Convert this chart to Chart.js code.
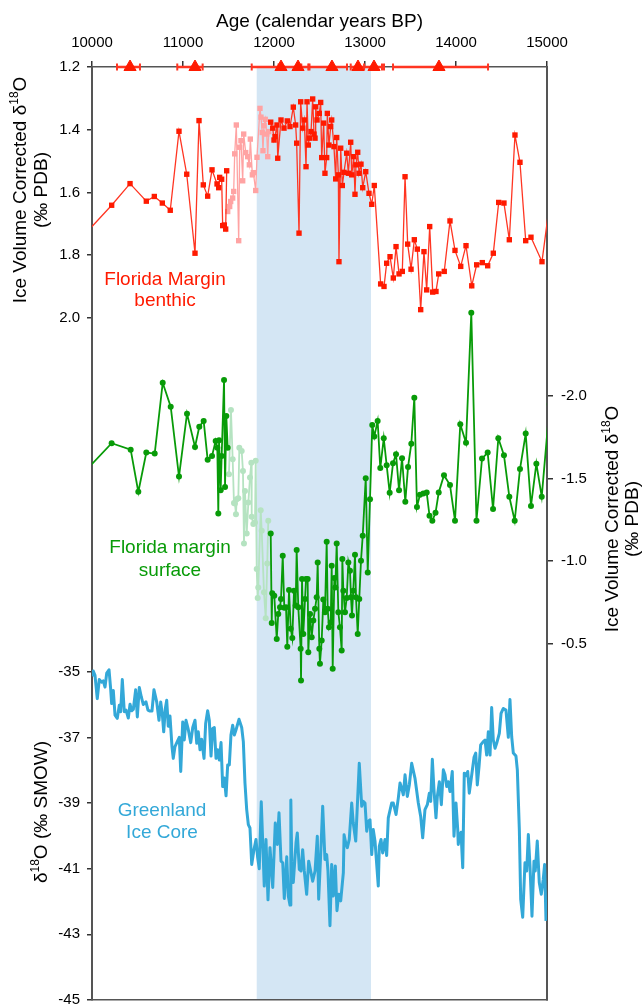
<!DOCTYPE html>
<html>
<head>
<meta charset="utf-8">
<script src="https://cdn.jsdelivr.net/npm/chart.js"></script>
<style>
  html, body { margin: 0; padding: 0; background: #fff; }
  canvas { display: block; }
</style>
</head>
<body>
<canvas id="chart" width="644" height="1004"></canvas>
<script>
// --- Data ---
const ageTicks = [10000, 11000, 12000, 13000, 14000, 15000];
const benthicTicks = [1.2, 1.4, 1.6, 1.8, 2.0];
const surfaceTicks = [-2.0, -1.5, -1.0, -0.5];
const iceTicks = [-35, -37, -39, -41, -43, -45];

// cold interval (shaded band), calendar years BP
const bandStart = 11810;
const bandEnd = 13066;

// radiocarbon dated levels with age ranges
const datedAge = [10418, 11132, 12077, 12264, 12637, 12923, 13099, 13813];
const datedLo  = [10275, 10937, 11755, 12050, 12390, 12843, 12990, 13308];
const datedHi  = [10527, 11216, 12300, 12377, 12802, 13187, 13209, 14352];

// Florida Margin benthic (dark red), early part
const benthicAgeA = [9900, 10216, 10418, 10597, 10685, 10773, 10860, 10956, 11041, 11132, 11176, 11223,
  11271, 11319, 11374, 11392, 11403, 11425, 11436, 11454, 11469, 11480];
const benthicA = [1.74, 1.641, 1.572, 1.628, 1.613, 1.634, 1.657, 1.405, 1.542, 1.794, 1.371, 1.576,
  1.612, 1.528, 1.573, 1.585, 1.552, 1.558, 1.706, 1.704, 1.717, 1.531];

// Florida Margin benthic (dark red), later part
const benthicAgeB = [11964, 11986, 12000, 12011, 12033, 12041, 12077, 12110, 12146, 12176, 12212, 12238,
  12249, 12275, 12293, 12315, 12333, 12352, 12363, 12377, 12388, 12407, 12425, 12440, 12451, 12458,
  12473, 12498, 12513, 12524, 12546, 12560, 12579, 12586, 12604, 12623, 12634, 12659, 12678, 12689,
  12707, 12714, 12733, 12751, 12769, 12799, 12817, 12843, 12854, 12876, 12890, 12901, 12920, 12934,
  12956, 12975, 13008, 13044, 13074, 13102, 13172, 13209, 13238, 13275, 13311, 13341, 13374, 13410,
  13440, 13469, 13506, 13542, 13575, 13612, 13648, 13678, 13711, 13744, 13780, 13810, 13871, 13934,
  13989, 14052, 14110, 14173, 14227, 14289, 14348, 14410, 14469, 14527, 14586, 14648, 14703, 14766,
  14824, 14945, 15040];
const benthicB = [1.376, 1.395, 1.433, 1.422, 1.385, 1.491, 1.369, 1.395, 1.372, 1.390, 1.328, 1.385,
  1.443, 1.730, 1.311, 1.395, 1.369, 1.518, 1.311, 1.449, 1.427, 1.406, 1.302, 1.414, 1.427, 1.327,
  1.369, 1.348, 1.313, 1.489, 1.379, 1.539, 1.489, 1.348, 1.449, 1.390, 1.369, 1.454, 1.557, 1.425,
  1.544, 1.821, 1.459, 1.578, 1.536, 1.475, 1.539, 1.440, 1.544, 1.486, 1.606, 1.512, 1.472, 1.539,
  1.510, 1.585, 1.534, 1.603, 1.638, 1.578, 1.892, 1.900, 1.826, 1.805, 1.873, 1.773, 1.860, 1.852,
  1.550, 1.765, 1.845, 1.751, 1.781, 1.974, 1.789, 1.911, 1.709, 1.918, 1.916, 1.860, 1.852, 1.691,
  1.785, 1.836, 1.770, 1.898, 1.831, 1.824, 1.834, 1.794, 1.632, 1.634, 1.751, 1.417, 1.504, 1.754,
  1.743, 1.821, 1.61];

// second benthic core (pink)
const benthicAgeC = [11491, 11513, 11524, 11546, 11557, 11568, 11586, 11612, 11623, 11637, 11656, 11667,
  11689, 11711, 11729, 11740, 11762, 11773, 11799, 11813, 11846, 11857, 11871, 11879, 11890, 11904,
  11920, 11931, 11942];
const benthicC = [1.661, 1.645, 1.629, 1.618, 1.597, 1.477, 1.385, 1.754, 1.456, 1.435, 1.563, 1.414,
  1.473, 1.486, 1.512, 1.430, 1.544, 1.537, 1.594, 1.488, 1.332, 1.360, 1.409, 1.467, 1.387, 1.367,
  1.414, 1.486, 1.406];

// Florida margin surface (dark green), early part
const surfaceAgeA = [9900, 10216, 10425, 10509, 10597, 10689, 10777, 10865, 10956, 11044, 11132, 11179,
  11227, 11271, 11319, 11359, 11377, 11388, 11396, 11414, 11425, 11451, 11462, 11476, 11491];
const surfaceA = [-1.53, -1.714, -1.675, -1.419, -1.657, -1.651, -2.080, -1.935, -1.512, -1.893, -1.691, -1.814,
  -1.849, -1.613, -1.637, -1.728, -1.687, -1.288, -1.732, -1.429, -1.637, -2.097, -1.449, -1.879, -1.687];

// Florida margin surface (dark green), later part
const surfaceAgeB = [11964, 11975, 11981, 12003, 12030, 12047, 12066, 12077, 12096, 12113, 12132, 12146,
  12165, 12184, 12201, 12220, 12238, 12249, 12267, 12293, 12297, 12308, 12322, 12341, 12352, 12370,
  12377, 12396, 12414, 12432, 12451, 12469, 12480, 12498, 12505, 12524, 12542, 12560, 12579, 12590,
  12604, 12623, 12634, 12645, 12663, 12674, 12689, 12707, 12725, 12744, 12751, 12762, 12780, 12799,
  12817, 12835, 12846, 12857, 12871, 12890, 12901, 12920, 12937, 12956, 12975, 13008, 13030, 13055,
  13080, 13102, 13139, 13168, 13206, 13238, 13271, 13308, 13341, 13374, 13407, 13443, 13473, 13509,
  13542, 13571, 13604, 13641, 13678, 13709, 13740, 13775, 13810, 13868, 13934, 13989, 14047, 14110,
  14168, 14225, 14286, 14348, 14407, 14465, 14527, 14586, 14645, 14703, 14766, 14824, 14883, 14942,
  15030];
const surfaceB = [-1.167, -0.625, -0.804, -0.790, -0.528, -0.679, -0.719, -0.770, -1.032, -0.716, -0.719, -0.481,
  -0.824, -0.589, -0.534, -0.820, -0.730, -1.067, -0.719, -0.468, -0.276, -0.891, -0.558, -0.770, -0.891, -0.891,
  -0.447, -0.679, -0.538, -0.639, -0.710, -0.780, -0.991, -0.468, -0.377, -0.518, -0.766, -0.689, -1.117, -0.710,
  -0.598, -0.628, -0.971, -0.347, -0.897, -0.840, -1.106, -0.689, -0.598, -0.457, -1.012, -0.820, -0.689, -0.776,
  -0.991, -0.941, -0.780, -0.669, -0.820, -1.038, -0.780, -0.558, -0.770, -1.002, -1.153, -1.502, -0.931, -1.375,
  -1.825, -1.754, -1.849, -1.563, -1.744, -1.581, -1.413, -1.593, -1.647, -1.429, -1.623, -1.359, -1.570, -1.711,
  -1.990, -1.328, -1.401, -1.409, -1.415, -1.274, -1.244, -1.292, -1.415, -1.520, -1.460, -1.244, -1.829, -1.717,
  -2.504, -1.244, -1.621, -1.657, -1.315, -1.744, -1.641, -1.389, -1.244, -1.557, -1.772, -1.334, -1.590, -1.389,
  -1.95];

// second surface core (light green)
const surfaceAgeC = [11505, 11527, 11546, 11560, 11571, 11582, 11590, 11608, 11619, 11645, 11659, 11670,
  11681, 11700, 11718, 11736, 11751, 11755, 11773, 11791, 11799, 11810, 11821, 11827, 11854, 11865,
  11890, 11909, 11926, 11937];
const surfaceC = [-1.526, -1.915, -1.617, -1.351, -1.348, -1.284, -1.375, -1.381, -1.687, -1.667, -1.546, -1.106,
  -1.425, -1.167, -1.354, -1.506, -1.596, -1.268, -1.224, -1.233, -1.607, -0.952, -0.776, -0.840, -1.308, -1.183,
  -0.810, -0.653, -0.985, -1.244];

// Greenland ice core d18O (per mil SMOW)
const iceAge = [10000, 10014, 10033, 10058, 10080, 10107, 10124, 10143, 10162, 10187, 10205, 10216,
  10234, 10253, 10278, 10300, 10315, 10333, 10355, 10374, 10399, 10418, 10436, 10454, 10480, 10498,
  10520, 10542, 10564, 10593, 10615, 10637, 10659, 10681, 10711, 10736, 10755, 10773, 10788, 10806,
  10821, 10838, 10857, 10879, 10893, 10912, 10937, 10959, 10975, 10997, 11014, 11033, 11058, 11085,
  11107, 11132, 11151, 11168, 11187, 11205, 11231, 11249, 11271, 11289, 11308, 11326, 11344, 11363,
  11381, 11399, 11418, 11436, 11454, 11473, 11491, 11509, 11527, 11546, 11564, 11582, 11615, 11645,
  11663, 11681, 11700, 11718, 11736, 11747, 11755, 11780, 11802, 11821, 11838, 11860, 11879, 11893,
  11912, 11934, 11956, 11986, 12014, 12036, 12055, 12077, 12096, 12113, 12140, 12157, 12176, 12185,
  12195, 12212, 12242, 12256, 12278, 12297, 12315, 12333, 12359, 12381, 12403, 12425, 12451, 12476,
  12491, 12513, 12535, 12560, 12579, 12593, 12615, 12634, 12652, 12674, 12692, 12711, 12733, 12762,
  12770, 12788, 12806, 12827, 12854, 12871, 12898, 12937, 12964, 12981, 13000, 13019, 13036, 13055,
  13074, 13091, 13110, 13146, 13157, 13176, 13194, 13220, 13238, 13256, 13293, 13311, 13341, 13366,
  13385, 13403, 13421, 13440, 13465, 13487, 13513, 13549, 13586, 13612, 13634, 13659, 13685, 13707,
  13722, 13740, 13758, 13780, 13795, 13817, 13839, 13861, 13879, 13898, 13915, 13934, 13959, 13978,
  14000, 14019, 14025, 14036, 14055, 14074, 14091, 14110, 14129, 14146, 14173, 14198, 14217, 14234,
  14253, 14271, 14300, 14319, 14337, 14355, 14374, 14392, 14410, 14429, 14447, 14476, 14495, 14520,
  14549, 14575, 14593, 14612, 14630, 14659, 14674, 14696, 14711, 14733, 14758, 14777, 14795, 14813,
  14835, 14857, 14871, 14893, 14915, 14937, 14959, 14974, 14989];
const iceD18O = [-35.14, -34.98, -35.11, -35.82, -35.24, -35.32, -35.28, -35.47, -35.04, -34.94, -35.52, -35.97,
  -35.57, -36.32, -36.42, -36.02, -36.22, -35.24, -36.22, -36.17, -36.41, -35.99, -36.19, -36.15, -35.55, -36.38,
  -35.48, -35.77, -36.00, -35.92, -36.17, -36.20, -36.20, -35.55, -35.92, -36.48, -35.92, -36.30, -36.83, -36.12,
  -35.87, -36.66, -36.35, -37.28, -37.64, -37.28, -37.13, -37.00, -38.04, -36.53, -37.08, -36.48, -36.76, -37.16,
  -36.70, -36.48, -37.18, -36.83, -37.38, -37.06, -37.64, -36.58, -36.19, -36.48, -37.57, -36.73, -36.70, -37.64,
  -37.38, -37.69, -37.16, -38.50, -38.24, -38.78, -37.84, -37.84, -36.93, -36.63, -36.93, -36.78, -36.45, -36.70,
  -37.13, -38.39, -39.20, -39.66, -39.76, -40.39, -40.87, -40.42, -40.11, -40.67, -41.00, -38.96, -40.42, -41.53,
  -40.11, -41.95, -40.36, -41.57, -39.61, -40.26, -39.30, -40.77, -40.82, -41.91, -40.64, -41.83, -42.11, -38.91,
  -40.77, -41.42, -40.21, -39.91, -41.02, -41.07, -40.42, -41.07, -41.78, -40.77, -41.07, -41.38, -41.07, -40.01,
  -41.93, -40.57, -39.10, -40.72, -40.57, -41.07, -42.74, -40.87, -41.83, -40.92, -42.28, -41.78, -41.98, -41.12,
  -39.97, -40.21, -40.36, -40.11, -39.00, -39.61, -40.16, -37.79, -39.10, -38.95, -39.00, -39.86, -39.56, -39.51,
  -40.57, -39.81, -40.16, -41.53, -40.32, -40.11, -40.52, -40.11, -40.60, -39.45, -39.00, -39.00, -39.35, -38.85,
  -38.39, -38.55, -38.75, -38.14, -38.80, -38.45, -37.79, -38.24, -39.00, -39.41, -40.06, -39.20, -39.05, -38.70,
  -38.95, -37.67, -38.60, -39.45, -38.80, -38.35, -39.05, -37.99, -38.14, -38.50, -38.35, -38.65, -38.04, -40.01,
  -39.00, -39.81, -40.26, -40.01, -39.89, -40.97, -38.09, -38.17, -38.04, -38.70, -38.14, -37.61, -37.48, -38.45,
  -37.89, -37.23, -37.13, -37.08, -37.54, -36.83, -37.54, -36.09, -37.08, -37.33, -37.18, -36.88, -36.27, -36.12,
  -36.17, -37.00, -35.85, -36.98, -37.48, -37.57, -37.99, -39.81, -41.93, -42.48, -40.82, -41.07, -39.96, -40.92,
  -42.45, -40.77, -41.07, -40.16, -41.42, -41.78, -41.32, -40.87, -42.59];

// --- Colours & fonts ---
const FONT = "'Liberation Sans', Arial, sans-serif";
const RED = '#ff1a00';
const RED_LINE = '#ff3522';
const PINK = '#ffa3a3';
const GREEN = '#089b08';
const LIGHT_GREEN = '#b5e3c1';
const BLUE = '#33a8d8';
const BAND = '#d4e6f4';
const AXIS = '#555555';

Chart.defaults.font.family = FONT;
Chart.defaults.color = '#000';

function toPoints(xs, ys) {
    return xs.map((x, i) => ({ x: x, y: ys[i] }));
}

function errorBarPoints() {
    const pts = [];
    datedAge.forEach((a, i) => {
        pts.push({ x: datedLo[i], y: 1.2 });
        pts.push({ x: datedHi[i], y: 1.2 });
        pts.push({ x: datedHi[i], y: null });
    });
    return pts;
}

// fixed box sizes; no extra label padding so the plot area stays put
function fixBox(size) {
    return s => {
        if (s.isHorizontal()) s.height = size; else s.width = size;
        s.paddingTop = 0; s.paddingBottom = 0; s.paddingLeft = 0; s.paddingRight = 0;
    };
}

// draw a text made of runs (for superscripts), centred at x,y
function drawRuns(ctx, runs, x, y, rotate, color) {
    ctx.save();
    ctx.translate(x, y);
    if (rotate) ctx.rotate(-Math.PI / 2);
    ctx.fillStyle = color;
    ctx.textBaseline = 'middle';
    ctx.textAlign = 'left';
    let w = 0;
    runs.forEach(r => {
        ctx.font = r.size + 'px ' + FONT;
        w += ctx.measureText(r.text).width;
    });
    let cx = -w / 2;
    runs.forEach(r => {
        ctx.font = r.size + 'px ' + FONT;
        ctx.fillText(r.text, cx, r.dy || 0);
        cx += ctx.measureText(r.text).width;
    });
    ctx.restore();
}

const T = 19;      // title size
const S = 12;      // superscript size
const SUP = -6;    // superscript offset

// --- Plugins ---
const bandPlugin = {
    id: 'band',
    // the benthic axis shares the left edge with the ice core axis:
    // give it the same box so its labels are not clipped away
    afterLayout(chart) {
        const red = chart.scales.yRed;
        red.left = 0;
        red.width = red.right - red.left;
    },
    beforeDraw(chart) {
        const { ctx, chartArea, scales } = chart;
        const x0 = scales.x.getPixelForValue(bandStart);
        const x1 = scales.x.getPixelForValue(bandEnd);
        ctx.save();
        ctx.fillStyle = BAND;
        ctx.fillRect(x0, chartArea.top + 1, x1 - x0, chartArea.bottom - chartArea.top - 1);
        ctx.restore();
    }
};

const labelPlugin = {
    id: 'labels',
    afterDraw(chart) {
        const ctx = chart.ctx;
        // left axis titles
        drawRuns(ctx, [{ text: 'Ice Volume Corrected δ', size: T }, { text: '18', size: S, dy: SUP }, { text: 'O', size: T }],
            21, 190, true, '#000');
        drawRuns(ctx, [{ text: '(‰ PDB)', size: T }], 42, 190, true, '#000');
        drawRuns(ctx, [{ text: 'δ', size: T }, { text: '18', size: S, dy: SUP }, { text: 'O (‰ SMOW)', size: T }],
            42, 812, true, '#000');
        // right axis title
        drawRuns(ctx, [{ text: 'Ice Volume Corrected δ', size: T }, { text: '18', size: S, dy: SUP }, { text: 'O', size: T }],
            613, 519, true, '#000');
        drawRuns(ctx, [{ text: '(‰ PDB)', size: T }], 633, 519, true, '#000');
        // series labels
        drawRuns(ctx, [{ text: 'Florida Margin', size: T }], 165, 280, false, RED);
        drawRuns(ctx, [{ text: 'benthic', size: T }], 165, 301, false, RED);
        drawRuns(ctx, [{ text: 'Florida margin', size: T }], 170, 548, false, GREEN);
        drawRuns(ctx, [{ text: 'surface', size: T }], 170, 571, false, GREEN);
        drawRuns(ctx, [{ text: 'Greenland', size: T }], 162, 811, false, BLUE);
        drawRuns(ctx, [{ text: 'Ice Core', size: T }], 162, 833, false, BLUE);
    }
};

// --- Chart ---
const ctx = document.getElementById('chart').getContext('2d');
new Chart(ctx, {
    type: 'line',
    data: {
        datasets: [
            {
                label: 'dated levels',
                data: datedAge.map(a => ({ x: a, y: 1.2 })),
                yAxisID: 'yRed', showLine: false, clip: false, order: 0,
                pointStyle: 'triangle', pointRadius: 7, pointBorderWidth: 1,
                pointBackgroundColor: RED, pointBorderColor: RED
            },
            {
                label: 'age ranges',
                data: errorBarPoints(),
                yAxisID: 'yRed', clip: false, order: 1, spanGaps: false,
                borderColor: RED_LINE, borderWidth: 2.5,
                pointStyle: 'line', pointRotation: 90, pointRadius: 3.5,
                pointBorderColor: RED_LINE, pointBorderWidth: 2
            },
            {
                label: 'benthic',
                data: toPoints(benthicAgeB, benthicB),
                yAxisID: 'yRed', order: 2,
                borderColor: RED_LINE, borderWidth: 1.3,
                pointStyle: 'rect', pointRadius: 3.8, pointBorderWidth: 0,
                pointBackgroundColor: RED
            },
            {
                label: 'benthic early',
                data: toPoints(benthicAgeA, benthicA),
                yAxisID: 'yRed', order: 2,
                borderColor: RED_LINE, borderWidth: 1.3,
                pointStyle: 'rect', pointRadius: 3.8, pointBorderWidth: 0,
                pointBackgroundColor: RED
            },
            {
                label: 'benthic core 2',
                data: toPoints(benthicAgeC, benthicC),
                yAxisID: 'yRed', order: 3,
                borderColor: PINK, borderWidth: 1.3,
                pointStyle: 'rect', pointRadius: 3.8, pointBorderWidth: 0,
                pointBackgroundColor: PINK
            },
            {
                label: 'surface',
                data: toPoints(surfaceAgeB, surfaceB),
                yAxisID: 'yGreen', order: 4,
                borderColor: GREEN, borderWidth: 1.8,
                pointStyle: 'circle', pointRadius: 3, pointBorderWidth: 0,
                pointBackgroundColor: GREEN
            },
            {
                label: 'surface early',
                data: toPoints(surfaceAgeA, surfaceA),
                yAxisID: 'yGreen', order: 4,
                borderColor: GREEN, borderWidth: 1.8,
                pointStyle: 'circle', pointRadius: 3, pointBorderWidth: 0,
                pointBackgroundColor: GREEN
            },
            {
                label: 'surface core 2',
                data: toPoints(surfaceAgeC, surfaceC),
                yAxisID: 'yGreen', order: 5,
                borderColor: LIGHT_GREEN, borderWidth: 1.8,
                pointStyle: 'circle', pointRadius: 3, pointBorderWidth: 0,
                pointBackgroundColor: LIGHT_GREEN
            },
            {
                label: 'Greenland',
                data: toPoints(iceAge, iceD18O),
                yAxisID: 'yBlue', order: 6,
                borderColor: BLUE, borderWidth: 3, pointRadius: 0,
                borderJoinStyle: 'round'
            }
        ]
    },
    options: {
        responsive: false,
        animation: false,
        events: [],
        layout: { padding: 0, autoPadding: false },
        plugins: { legend: { display: false }, tooltip: { enabled: false } },
        elements: { line: { tension: 0 } },
        scales: {
            x: {
                type: 'linear', position: 'top', min: 10000, max: 15000,
                afterBuildTicks: s => { s.ticks = ageTicks.map(v => ({ value: v })); },
                ticks: { callback: v => String(v), font: { size: 15 }, color: '#000', padding: 9, maxRotation: 0 },
                grid: { drawOnChartArea: false, tickLength: 6, color: '#333', lineWidth: 1.5 },
                border: { color: AXIS, width: 1.5 },
                title: { display: true, text: 'Age (calendar years BP)', font: { size: T }, color: '#000', padding: { top: 10, bottom: 0 } },
                afterFit: fixBox(67)
            },
            x2: {
                type: 'linear', position: 'bottom', min: 10000, max: 15000,
                ticks: { display: false },
                grid: { display: false },
                border: { color: AXIS, width: 1.5 },
                afterFit: fixBox(4)
            },
            yBlue: {
                type: 'linear', position: 'left', weight: 1,
                min: -45, max: -45 + 933 / 32.83,
                afterBuildTicks: s => { s.ticks = iceTicks.map(v => ({ value: v })); },
                ticks: { callback: v => String(v), font: { size: 15 }, color: '#000', padding: 7 },
                grid: { drawOnChartArea: false, tickLength: 5, color: '#333', lineWidth: 1.5 },
                border: { color: AXIS, width: 2 },
                afterFit: fixBox(92)
            },
            yRed: {
                type: 'linear', position: 'left', weight: 0, reverse: true,
                min: 1.2, max: 1.2 + 933 / 313.5,
                afterBuildTicks: s => { s.ticks = benthicTicks.map(v => ({ value: v })); },
                ticks: { callback: v => v.toFixed(1), font: { size: 15 }, color: '#000', padding: 7 },
                grid: { drawOnChartArea: false, tickLength: 5, color: '#333', lineWidth: 1.5 },
                border: { display: false },
                afterFit: fixBox(0)
            },
            yGreen: {
                type: 'linear', position: 'right', reverse: true,
                min: -2.0 - 329 / 165, max: -2.0 + 604 / 165,
                afterBuildTicks: s => { s.ticks = surfaceTicks.map(v => ({ value: v })); },
                ticks: { callback: v => v.toFixed(1), font: { size: 15 }, color: '#000', padding: 8 },
                grid: { drawOnChartArea: false, tickLength: 6, color: '#333', lineWidth: 1.5 },
                border: { color: AXIS, width: 2 },
                afterFit: fixBox(97)
            }
        }
    },
    plugins: [bandPlugin, labelPlugin]
});
</script>
</body>
</html>
